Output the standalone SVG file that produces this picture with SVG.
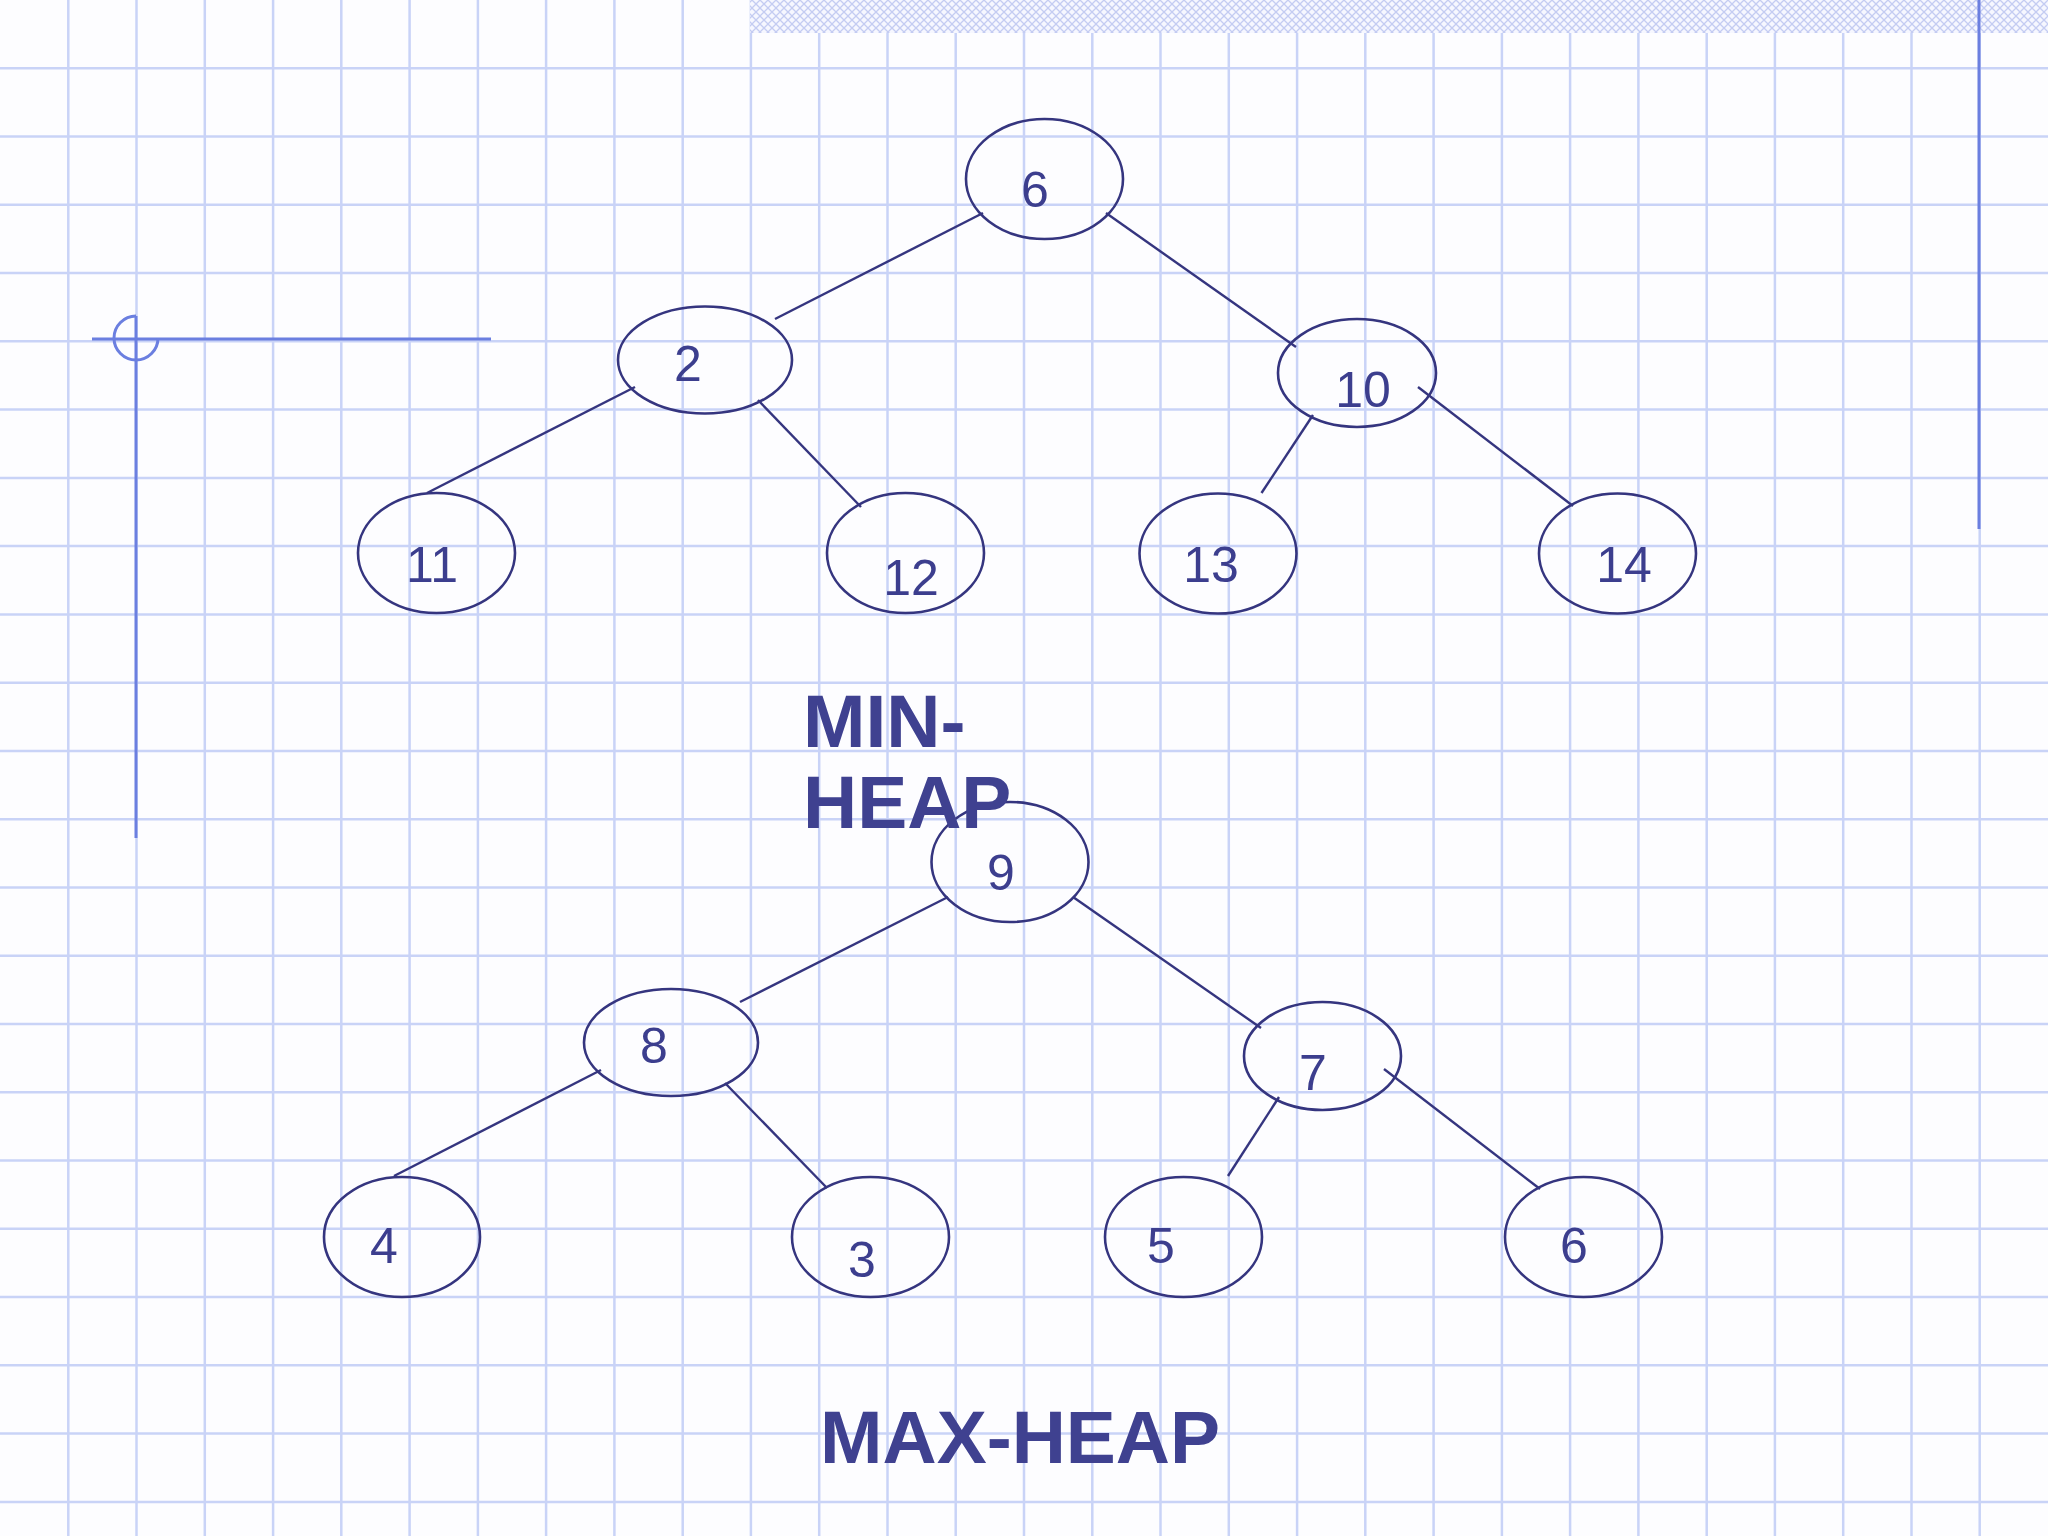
<svg xmlns="http://www.w3.org/2000/svg" width="2048" height="1536" viewBox="0 0 2048 1536">
<defs>
<style>
.grid{stroke:#c9d3f7;stroke-width:2.5;fill:none}
.deco{stroke:#6b7fe0;stroke-width:3;fill:none}
.node{fill:none;stroke:#35357f;stroke-width:2.6}
.edge{stroke:#35357f;stroke-width:2.4;fill:none}
.num{font-family:"Liberation Sans",Arial,sans-serif;font-size:50px;fill:#3c3e8e;text-anchor:middle}
.title{font-family:"Liberation Sans",Arial,sans-serif;font-size:75px;font-weight:bold;fill:#3f4190}
</style>
<pattern id="hatch" patternUnits="userSpaceOnUse" width="8" height="8">
<rect width="8" height="8" fill="#f6f7ff"/>
<path d="M0,0 L8,8 M8,0 L0,8" stroke="#c4ccf2" stroke-width="1.3"/>
</pattern>
</defs>
<rect width="2048" height="1536" fill="#fdfdff"/>
<g id="grid" class="grid">
<path d="M68.3,0V1536 M136.5,0V1536 M204.8,0V1536 M273.1,0V1536 M341.3,0V1536 M409.6,0V1536 M477.9,0V1536 M546.1,0V1536 M614.4,0V1536 M682.7,0V1536 M750.9,0V1536 M819.2,0V1536 M887.5,0V1536 M955.7,0V1536 M1024,0V1536 M1092.3,0V1536 M1160.5,0V1536 M1228.8,0V1536 M1297.1,0V1536 M1365.3,0V1536 M1433.6,0V1536 M1501.9,0V1536 M1570.1,0V1536 M1638.4,0V1536 M1706.7,0V1536 M1774.9,0V1536 M1843.2,0V1536 M1911.5,0V1536 M1979.7,0V1536"/>
<path d="M0,68.3H2048 M0,136.5H2048 M0,204.8H2048 M0,273.1H2048 M0,341.3H2048 M0,409.6H2048 M0,477.9H2048 M0,546.1H2048 M0,614.4H2048 M0,682.7H2048 M0,750.9H2048 M0,819.2H2048 M0,887.5H2048 M0,955.7H2048 M0,1024H2048 M0,1092.3H2048 M0,1160.5H2048 M0,1228.8H2048 M0,1297.1H2048 M0,1365.3H2048 M0,1433.6H2048 M0,1501.9H2048"/>
</g>
<rect id="band" x="750" y="0" width="1298" height="33" fill="url(#hatch)"/>
<g id="decor" class="deco">
<line x1="1979" y1="0" x2="1979" y2="529"/>
<line x1="92" y1="339" x2="491" y2="339"/>
<line x1="136" y1="316" x2="136" y2="838"/>
<path d="M136,316 A22,22 0 1 0 158,338"/>
</g>
<g id="connectors" class="edge">
<line x1="983" y1="213" x2="775" y2="319"/>
<line x1="1106" y1="213" x2="1296" y2="347"/>
<line x1="635" y1="387" x2="427" y2="493"/>
<line x1="758" y1="400" x2="861" y2="507"/>
<line x1="1313" y1="415" x2="1261.5" y2="493"/>
<line x1="1418" y1="387" x2="1573" y2="506"/>
<line x1="948" y1="897" x2="740" y2="1002"/>
<line x1="1073" y1="897" x2="1261" y2="1028"/>
<line x1="601" y1="1070" x2="394" y2="1176"/>
<line x1="725" y1="1083" x2="827" y2="1188"/>
<line x1="1279" y1="1097" x2="1228" y2="1176"/>
<line x1="1384" y1="1069" x2="1540" y2="1189"/>
</g>
<g id="min6"><ellipse class="node" cx="1044.5" cy="179" rx="78.5" ry="60"/><text class="num" x="1035" y="207">6</text></g>
<g id="min2"><ellipse class="node" cx="705" cy="360" rx="87" ry="53.5"/><text class="num" x="688" y="381">2</text></g>
<g id="min10"><ellipse class="node" cx="1357" cy="373" rx="79" ry="54"/><text class="num" x="1363" y="407">10</text></g>
<g id="min11"><ellipse class="node" cx="436.5" cy="553" rx="78.5" ry="60"/><text class="num" x="432" y="582">11</text></g>
<g id="min12"><ellipse class="node" cx="905.5" cy="553" rx="78.5" ry="60"/><text class="num" x="911" y="595">12</text></g>
<g id="min13"><ellipse class="node" cx="1218" cy="553.5" rx="78.5" ry="60"/><text class="num" x="1211" y="582">13</text></g>
<g id="min14"><ellipse class="node" cx="1617.5" cy="553.5" rx="78.5" ry="60"/><text class="num" x="1624" y="582">14</text></g>
<g id="max9"><ellipse class="node" cx="1010" cy="862" rx="78.5" ry="60"/><text class="num" x="1001" y="890">9</text></g>
<g id="max8"><ellipse class="node" cx="671" cy="1042.5" rx="87" ry="53.5"/><text class="num" x="654" y="1063">8</text></g>
<g id="max7"><ellipse class="node" cx="1322.5" cy="1056" rx="78.5" ry="54"/><text class="num" x="1313" y="1090">7</text></g>
<g id="max4"><ellipse class="node" cx="402" cy="1237" rx="78" ry="60"/><text class="num" x="384" y="1263">4</text></g>
<g id="max3"><ellipse class="node" cx="870.5" cy="1237" rx="78.5" ry="60"/><text class="num" x="862" y="1277">3</text></g>
<g id="max5"><ellipse class="node" cx="1183.5" cy="1237" rx="78.5" ry="60"/><text class="num" x="1161" y="1263">5</text></g>
<g id="max6"><ellipse class="node" cx="1583.5" cy="1237" rx="78.5" ry="60"/><text class="num" x="1574" y="1263">6</text></g>
<g id="labels">
<text class="title" x="803" y="747">MIN-</text>
<text class="title" x="803" y="828">HEAP</text>
<text class="title" x="820" y="1463">MAX-HEAP</text>
</g>
</svg>
